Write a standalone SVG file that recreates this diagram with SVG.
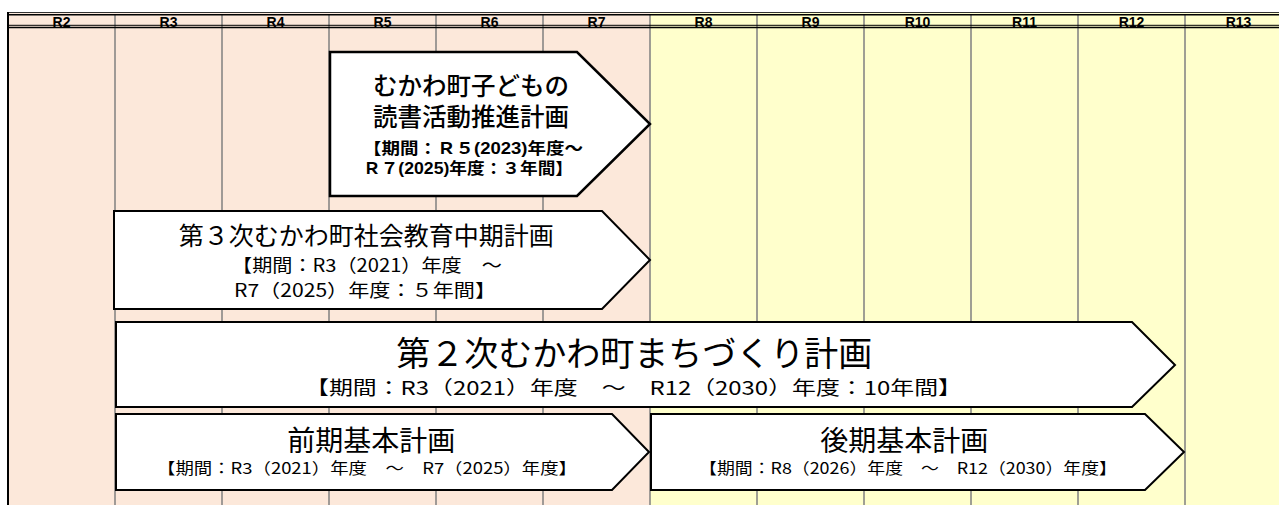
<svg xmlns="http://www.w3.org/2000/svg" width="1279" height="505" viewBox="0 0 1279 505">
<style>
.col{stroke:#808080;stroke-width:1.5;fill:none}
.hdr{font-family:"Liberation Sans",Arial,sans-serif;font-size:14px;font-weight:bold;fill:#000;text-anchor:middle}
.box{fill:#fff;stroke:#000;stroke-width:2;stroke-linejoin:miter}
.t{font-family:"Noto Sans CJK JP","Noto Sans CJK SC",sans-serif;fill:#000}
.tl{font-family:"Liberation Sans","Noto Sans CJK JP","Noto Sans CJK SC",sans-serif;fill:#000}
.m{text-anchor:middle}
.st{text-anchor:start}
.b{font-weight:bold}
</style>
<rect x="0" y="0" width="1279" height="505" fill="#fff"/>
<g id="background">
<rect x="8" y="12" width="642" height="493" fill="#FCE8DA"/>
<rect x="650" y="12" width="629" height="493" fill="#FFFFCC"/>
</g>
<g id="header">
<text class="hdr" x="61.5" y="27">R2</text>
<text class="hdr" x="168.5" y="27">R3</text>
<text class="hdr" x="275.5" y="27">R4</text>
<text class="hdr" x="382.5" y="27">R5</text>
<text class="hdr" x="489.5" y="27">R6</text>
<text class="hdr" x="596.5" y="27">R7</text>
<text class="hdr" x="703.5" y="27">R8</text>
<text class="hdr" x="810.5" y="27">R9</text>
<text class="hdr" x="917.5" y="27">R10</text>
<text class="hdr" x="1024.5" y="27">R11</text>
<text class="hdr" x="1131.5" y="27">R12</text>
<text class="hdr" x="1238.5" y="27">R13</text>
</g>
<g id="grid">
<path class="col" d="M115,14V505M222,14V505M329,14V505M436,14V505M543,14V505M650,14V505M757,14V505M864,14V505M971,14V505M1078,14V505M1185,14V505"/>
<path d="M8,12.5H1279" stroke="#333" stroke-width="1"/>
<path d="M8,14.7H1279" stroke="#000" stroke-width="1.5"/>
<path d="M8,25.3H1279" stroke="#000" stroke-width="1"/>
<path d="M8,27.5H1279" stroke="#000" stroke-width="1.3"/>
<path d="M8,12V505" stroke="#000" stroke-width="2"/>
</g>
<g id="node-kodomo">
<polygon class="box" style="stroke-width:2.5" points="330,52 577,52 650,124 577,196 330,196"/>
<text class="tl m" x="471" y="95" font-size="24.5" font-weight="500">むかわ町子どもの</text>
<text class="tl m" x="471" y="126" font-size="24.5" font-weight="500">読書活動推進計画</text>
<text class="tl st b" x="363" y="154" font-size="16" textLength="220" lengthAdjust="spacingAndGlyphs">【期間：Ｒ５(2023)年度～</text>
<text class="tl st b" x="363" y="174" font-size="16" textLength="210" lengthAdjust="spacingAndGlyphs">Ｒ７(2025)年度：３年間】</text>
</g>
<g id="node-shakai">
<polygon class="box" points="114,211 602,211 650,260 602,309 114,309"/>
<text class="t">
<tspan class="m" x="368" y="245" font-size="25">第３次むかわ町社会教育中期計画</tspan>
<tspan class="st" x="232" y="272" font-size="18" textLength="270" lengthAdjust="spacingAndGlyphs">【期間：R3（2021）年度　～</tspan>
<tspan class="st" x="234" y="297" font-size="18" textLength="262" lengthAdjust="spacingAndGlyphs">R7（2025）年度：５年間】</tspan>
</text>
</g>
<g id="node-machizukuri">
<polygon class="box" points="116,322 1132,322 1175,365 1132,407 116,407"/>
<text class="t">
<tspan class="m" x="636" y="366" font-size="34">第２次むかわ町まちづくり計画</tspan>
<tspan class="st" x="305" y="395" font-size="19" textLength="657" lengthAdjust="spacingAndGlyphs">【期間：R3（2021）年度　～　R12（2030）年度：10年間】</tspan>
</text>
</g>
<g id="node-zenki">
<polygon class="box" points="116,414 612,414 649,452 612,490 116,490"/>
<text class="t">
<tspan class="m" x="373" y="451" font-size="28">前期基本計画</tspan>
<tspan class="st" x="157" y="474" font-size="15.5" textLength="420" lengthAdjust="spacingAndGlyphs">【期間：R3（2021）年度　～　R7（2025）年度】</tspan>
</text>
</g>
<g id="node-kouki">
<polygon class="box" points="651,414 1145,414 1184,452 1145,490 651,490"/>
<text class="t">
<tspan class="m" x="906" y="451" font-size="28">後期基本計画</tspan>
<tspan class="st" x="699" y="474" font-size="15.5" textLength="418" lengthAdjust="spacingAndGlyphs">【期間：R8（2026）年度　～　R12（2030）年度】</tspan>
</text>
</g>
</svg>
